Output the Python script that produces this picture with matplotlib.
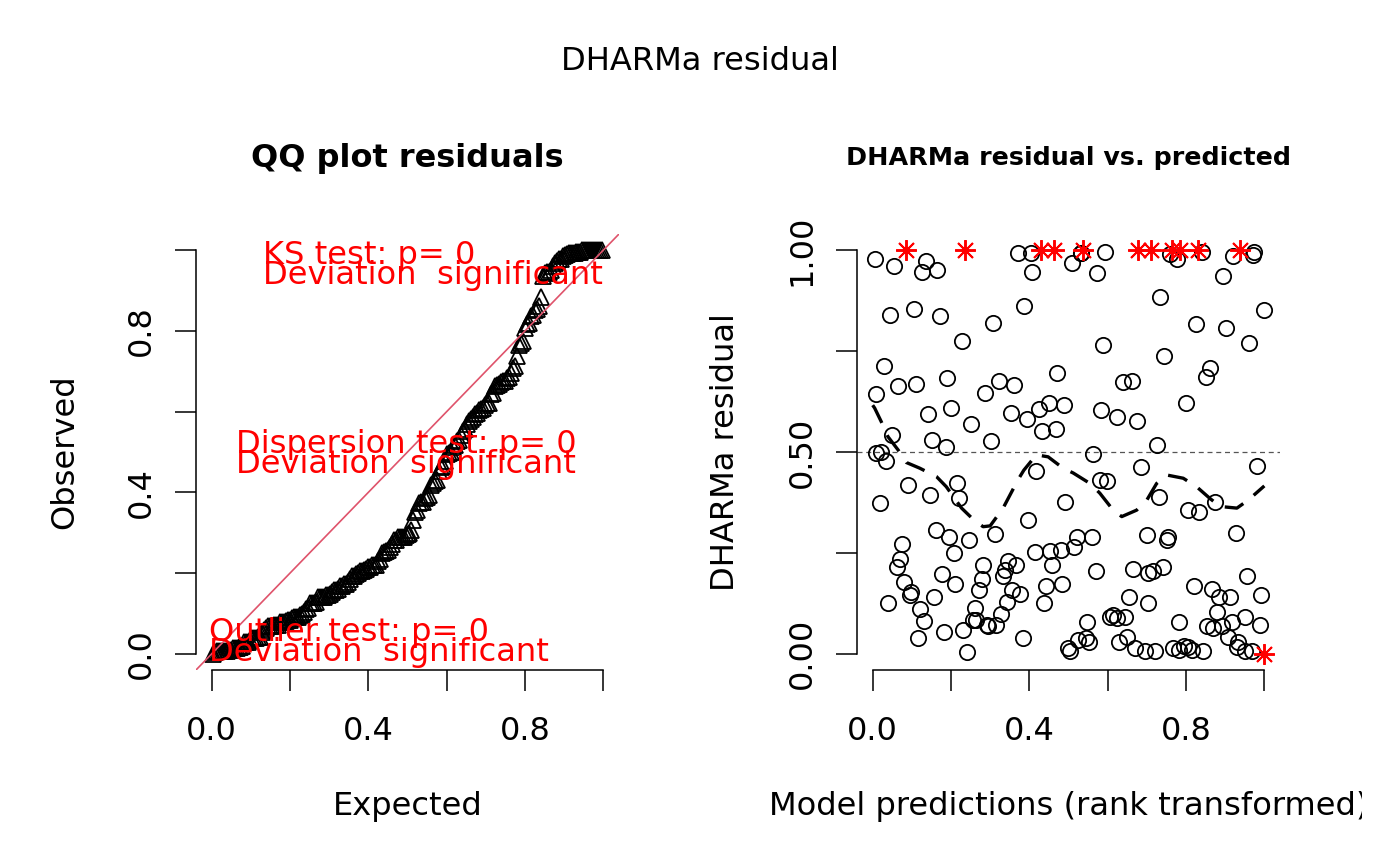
import numpy as np
import matplotlib
matplotlib.use("Agg")
import matplotlib.pyplot as plt
from matplotlib.transforms import Bbox

# ---------------- data ----------------
# rank-transformed model predictions and scaled (DHARMa) residuals
pred_rank = [
    0.005, 0.054, 0.137, 0.126, 0.165, 0.371, 0.403, 0.408, 0.509, 0.533, 0.531, 0.594, 0.573, 0.759, 0.776, 0.840,
    0.921, 0.974, 0.972, 0.895,
    0.043, 0.106, 0.171, 0.227, 0.306, 0.387, 0.734, 0.826, 0.901, 0.998, 0.589, 0.962, 0.745, 0.861, 0.851,
    0.030, 0.009, 0.065, 0.110, 0.191, 0.286, 0.322, 0.362, 0.471, 0.638, 0.661, 0.800,
    0.141, 0.201, 0.252, 0.302, 0.353, 0.393, 0.424, 0.449, 0.488, 0.433, 0.468, 0.584, 0.624, 0.674, 0.725,
    0.050, 0.152, 0.186, 0.563,
    0.009, 0.022, 0.035, 0.418, 0.685, 0.982,
    0.090, 0.020, 0.146, 0.216, 0.221, 0.580, 0.599, 0.492, 0.732, 0.806, 0.834, 0.874, 0.397,
    0.161, 0.195, 0.246, 0.312, 0.075, 0.071, 0.061, 0.207, 0.282, 0.176, 0.278, 0.211, 0.271, 0.080, 0.099,
    0.095, 0.156, 0.039, 0.120, 0.130, 0.116, 0.181, 0.231, 0.241, 0.261, 0.256, 0.263, 0.291, 0.295, 0.316,
    0.327, 0.342, 0.357, 0.376, 0.333, 0.337, 0.346, 0.367, 0.383, 0.414, 0.442, 0.438, 0.458, 0.452, 0.480,
    0.484, 0.514, 0.521, 0.559, 0.569, 0.548, 0.544, 0.553, 0.525, 0.499, 0.504, 0.606, 0.614, 0.623, 0.644,
    0.630, 0.650, 0.670, 0.695, 0.721, 0.655, 0.704, 0.665, 0.704, 0.717, 0.742, 0.700, 0.751, 0.755, 0.781,
    0.768, 0.781, 0.794, 0.806, 0.815, 0.844, 0.820, 0.866, 0.885, 0.912, 0.880, 0.853, 0.870, 0.891, 0.917,
    0.908, 0.930, 0.934, 0.951, 0.968, 0.951, 0.988, 0.992, 0.955, 0.927,
    # outliers
    0.084, 0.235, 0.429, 0.463, 0.537, 0.677, 0.711, 0.764, 0.785, 0.831, 0.939, 1.000,
]
residual = [
    0.977, 0.960, 0.972, 0.946, 0.950, 0.993, 0.992, 0.946, 0.969, 0.994, 0.993, 0.996, 0.944, 0.990, 0.979, 0.996,
    0.985, 0.996, 0.988, 0.936,
    0.839, 0.854, 0.837, 0.776, 0.820, 0.862, 0.883, 0.816, 0.806, 0.851, 0.765, 0.769, 0.738, 0.709, 0.686,
    0.714, 0.644, 0.663, 0.668, 0.683, 0.645, 0.676, 0.666, 0.696, 0.673, 0.675, 0.621,
    0.594, 0.610, 0.569, 0.528, 0.596, 0.582, 0.606, 0.622, 0.616, 0.553, 0.557, 0.605, 0.587, 0.576, 0.517,
    0.542, 0.530, 0.512, 0.496,
    0.497, 0.501, 0.478, 0.454, 0.464, 0.465,
    0.418, 0.373, 0.394, 0.422, 0.385, 0.431, 0.429, 0.375, 0.389, 0.356, 0.352, 0.377, 0.332,
    0.307, 0.289, 0.281, 0.297, 0.272, 0.236, 0.216, 0.249, 0.220, 0.197, 0.186, 0.173, 0.158, 0.179, 0.152,
    0.146, 0.142, 0.127, 0.111, 0.082, 0.039, 0.054, 0.059, 0.004, 0.113, 0.084, 0.084, 0.072, 0.069, 0.072,
    0.099, 0.129, 0.158, 0.149, 0.193, 0.208, 0.231, 0.220, 0.040, 0.253, 0.167, 0.125, 0.220, 0.256, 0.257,
    0.173, 0.264, 0.289, 0.289, 0.205, 0.080, 0.040, 0.030, 0.035, 0.014, 0.006, 0.092, 0.097, 0.088, 0.092,
    0.030, 0.041, 0.014, 0.008, 0.006, 0.142, 0.127, 0.210, 0.200, 0.204, 0.214, 0.295, 0.282, 0.289, 0.080,
    0.014, 0.010, 0.020, 0.018, 0.010, 0.008, 0.169, 0.160, 0.142, 0.140, 0.103, 0.068, 0.064, 0.068, 0.080,
    0.041, 0.018, 0.030, 0.008, 0.006, 0.092, 0.072, 0.146, 0.193, 0.299,
    # outliers
    1.0, 1.0, 1.0, 1.0, 1.0, 1.0, 1.0, 1.0, 1.0, 1.0, 1.0, 0.0,
]

# smoothed (quantile/loess-type) line in the residual vs predicted panel
smooth_x = [0.0, 0.005, 0.022, 0.039, 0.065, 0.086, 0.120, 0.163, 0.188, 0.227, 0.260, 0.282, 0.300, 0.333,
            0.371, 0.386, 0.418, 0.448, 0.486, 0.512, 0.555, 0.580, 0.614, 0.636, 0.674, 0.700, 0.725, 0.751,
            0.793, 0.827, 0.861, 0.887, 0.930, 0.959, 1.0]
smooth_y = [0.616, 0.609, 0.575, 0.538, 0.505, 0.474, 0.460, 0.439, 0.414, 0.361, 0.330, 0.315, 0.317, 0.361,
            0.431, 0.455, 0.493, 0.488, 0.460, 0.448, 0.422, 0.398, 0.356, 0.340, 0.356, 0.381, 0.422, 0.443,
            0.435, 0.414, 0.385, 0.365, 0.361, 0.381, 0.416]

test_names = ["KS test: p= 0", "Dispersion test: p= 0", "Outlier test: p= 0"]
test_verdict = "Deviation  significant"

qq_ticks = [0.0, 0.2, 0.4, 0.6, 0.8, 1.0]
qq_ticklabels = ["0.0", "", "0.4", "", "0.8", ""]
res_yticks = [0.0, 0.25, 0.5, 0.75, 1.0]
res_yticklabels = ["0.00", "", "0.50", "", "1.00"]

# ---------------- figure ----------------
W, H = 1400, 866
fig = plt.figure(figsize=(W / 100, H / 100), dpi=100)
plt.rcParams['font.family'] = ['DejaVu Sans']
FS = 23.1

def px_axes(x0, x1, y_top, y_bot):
    return fig.add_axes([x0 / W, 1 - y_bot / H, (x1 - x0) / W, (y_bot - y_top) / H])

def style_axes(ax, xt, xtl, yt, ytl):
    ax.set_xlim(-0.04, 1.04)
    ax.set_ylim(-0.04, 1.04)
    for s in ["top", "right"]:
        ax.spines[s].set_visible(False)
    ax.spines["left"].set_bounds(0, 1)
    ax.spines["bottom"].set_bounds(0, 1)
    for s in ["left", "bottom"]:
        ax.spines[s].set_linewidth(1.1)
    ax.set_xticks(xt)
    ax.set_xticklabels(xtl)
    ax.set_yticks(yt)
    ax.set_yticklabels(ytl, rotation=90, va="center")
    ax.tick_params(axis="both", direction="out", length=15, width=1.1, labelsize=FS)
    ax.tick_params(axis="x", pad=18.0)
    ax.tick_params(axis="y", pad=13.5)

def ftext(x, y, s, **kw):
    return fig.text(x / W, 1 - y / H, s, rotation_mode="anchor", **kw)

# ----- left: QQ plot -----
ax1 = px_axes(196, 619, 234, 670)
style_axes(ax1, qq_ticks, qq_ticklabels, qq_ticks, qq_ticklabels)
obs = np.sort(np.array(residual))
n = len(obs)
expected = (np.arange(1, n + 1) - 0.5) / n
ax1.plot(expected, obs, linestyle="none", marker="^", ms=11, mfc="none", mec="black", mew=1.3)
ax1.axline((0, 0), slope=1, color="#DF536B", lw=1.2)

text_pos = [(0.132, 0.965, 0.916), (0.063, 0.497, 0.447), (-0.0065, 0.033, -0.017)]
for name, (tx, ty1, ty2) in zip(test_names, text_pos):
    ax1.text(tx, ty1, name, color="red", fontsize=FS, ha="left", va="baseline")
    ax1.text(tx, ty2, test_verdict, color="red", fontsize=FS, ha="left", va="baseline")

# ----- right: residual vs predicted -----
ax2 = px_axes(857, 1280, 234, 670)
style_axes(ax2, qq_ticks, qq_ticklabels, res_yticks, res_yticklabels)
pr = np.array(pred_rank)
rs = np.array(residual)
outl = (rs == 0) | (rs == 1)
ax2.axhline(0.5, color="#555555", lw=0.9, linestyle=(0, (4, 3)))
ax2.plot(pr[~outl], rs[~outl], linestyle="none", marker="o", ms=11, mfc="none", mec="black", mew=1.3)
ax2.plot(pr[outl], rs[outl], linestyle="none", marker=(8, 2, 0), ms=15, color="red", mew=1.4)
ax2.plot(smooth_x, smooth_y, color="black", lw=2.4, linestyle=(0, (6, 4)))

# ----- titles and labels -----
ftext(700, 70, "DHARMa residual", fontsize=FS, ha="center", va="baseline")
ftext(407.5, 167, "QQ plot residuals", fontsize=23.0, fontweight="bold", ha="center", va="baseline")
ftext(1068.5, 165, "DHARMa residual vs. predicted", fontsize=18.3, fontweight="bold", ha="center", va="baseline")
ftext(407.5, 815, "Expected", fontsize=FS, ha="center", va="baseline")
t = ftext(1068.5, 815, "Model predictions (rank transformed)", fontsize=FS, ha="center", va="baseline")
t.set_clip_box(Bbox([[0, 0], [1362, H]]))
t.set_clip_on(True)
ftext(73.3, 452, "Observed", fontsize=FS, rotation=90, ha="center", va="baseline")
ftext(734, 452, "DHARMa residual", fontsize=FS, rotation=90, ha="center", va="baseline")

fig.savefig("out.png", dpi=100)
